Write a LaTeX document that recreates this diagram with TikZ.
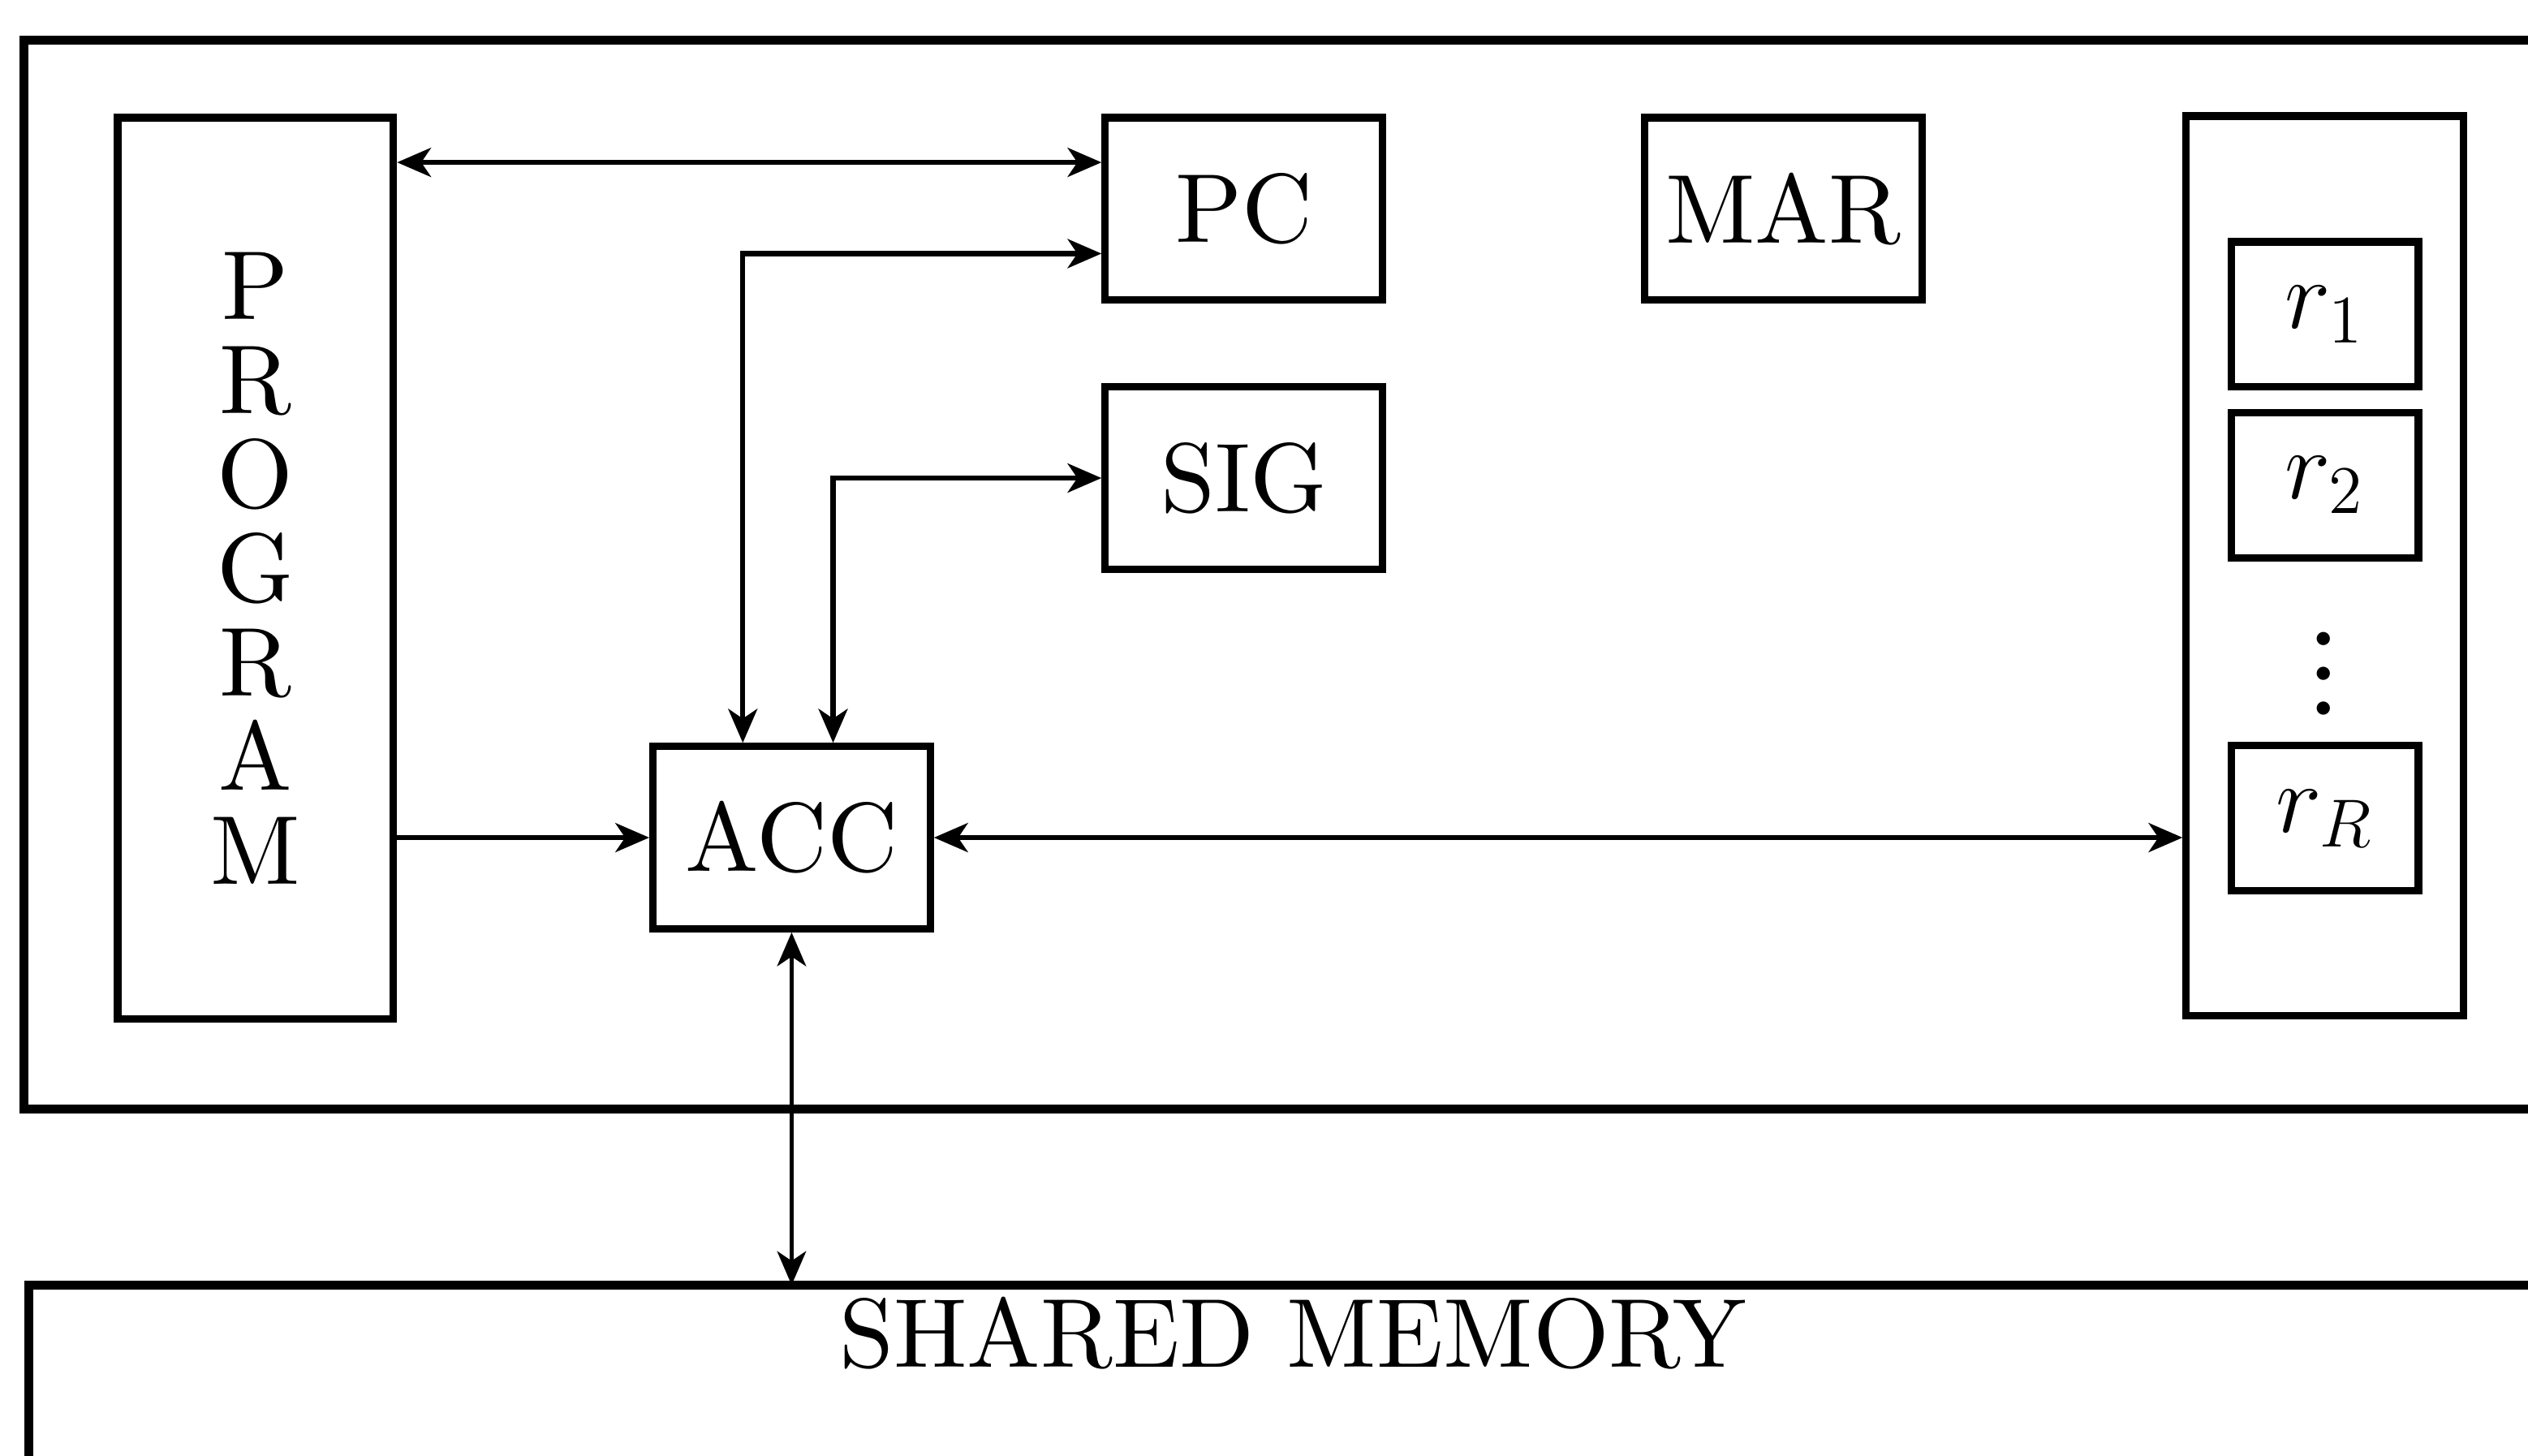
\documentclass[tikz,border=0pt]{standalone}
\usepackage{amsmath}
\usepackage{amssymb}
\usepackage{fontspec}
\setmainfont{lmroman10-regular.otf}[ItalicFont=lmroman10-italic.otf, BoldFont=lmroman10-bold.otf]
\newfontfamily\simboli{latinmodern-math.otf}
\usepackage{tikz}
\usetikzlibrary{arrows.meta}

\begin{document}
\begin{tikzpicture}[
                % Stile dei blocchi (registri interni)
                blocco/.style={
                    draw, 
                    rectangle, 
                    inner sep=0pt,
                    minimum width=1.72cm, 
                    minimum height=1.13cm, 
                    line width=1.3pt,
                    font=\LARGE
                },
                % Stile dei riquadri esterni (processore e memoria)
                cornice/.style={
                    line width=1.6pt
                },
                % Frecce con la punta piena
                freccia/.style={
                    ->, 
                    >={Stealth[length=2.1mm, width=1.8mm, inset=0.6mm]}, 
                    line width=0.9pt
                },
                doppia/.style={
                    freccia,
                    <->
                }
            ]
                
                % 0. La figura e' tagliata a destra e in basso
                \clip (0,0) rectangle (15.68,9.03);
                
                % 1. Riquadro del processore e memoria condivisa
                \draw [cornice] (0.15,2.15) rectangle (16.5,8.78);
                \draw [cornice] (0.18,-1) rectangle (16.5,1.06);
                \coordinate (memtop) at (0,1.06);
                \node [font=\LARGE] (mem) at (8.02,0.76) {SHARED MEMORY};
                
                % 2. Blocchi del processore
                \node [blocco, minimum width=1.71cm, minimum height=5.59cm, align=center,
                       font=\fontsize{17.28}{16.6}\selectfont] (prog) at (1.585,5.505) {P\\R\\O\\G\\R\\A\\M};
                \node [blocco] (pc) at (7.715,7.735) {PC};
                \node [blocco] (mar) at (11.06,7.735) {MAR};
                \node [blocco] (sig) at (7.715,6.065) {SIG};
                \node [blocco] (acc) at (4.91,3.835) {ACC};
                
                % 3. Banco dei registri r_1 ... r_R
                \node [blocco, minimum height=5.58cm] (banco) at (14.42,5.52) {};
                \node [blocco, minimum width=1.16cm, minimum height=0.9cm] (r1) at (14.42,7.08) {$r_1$};
                \node [blocco, minimum width=1.16cm, minimum height=0.9cm] (r2) at (14.42,6.02) {$r_2$};
                \node [inner sep=0pt, font=\simboli\fontsize{22}{22}\selectfont] (punti) at (14.41,4.85) {⋮};
                \node [blocco, minimum width=1.16cm, minimum height=0.9cm] (rR) at (14.42,3.955) {$r_R$};
                
                % 4. Punti di attacco delle frecce
                \coordinate (pcsu) at ([yshift=-3mm]pc.north west);
                \coordinate (pcgiu) at ([yshift=3.1mm]pc.south west);
                \coordinate (accpc) at ([xshift=5.8mm]acc.north west);
                \coordinate (accsig) at ([xshift=11.4mm]acc.north west);
                
                % 5. Collegamenti
                \draw [doppia] (prog.east |- pcsu) -- (pcsu);
                \draw [doppia] (pcgiu) -| (accpc);
                \draw [doppia] (sig.west) -| (accsig);
                \draw [freccia] (prog.east |- acc.west) -- (acc.west);
                \draw [doppia] (acc.east) -- (banco.west |- acc.east);
                \draw [doppia, line width=0.6pt] (acc.south) -- (acc.south |- memtop);
                
            \end{tikzpicture}
\end{document}
